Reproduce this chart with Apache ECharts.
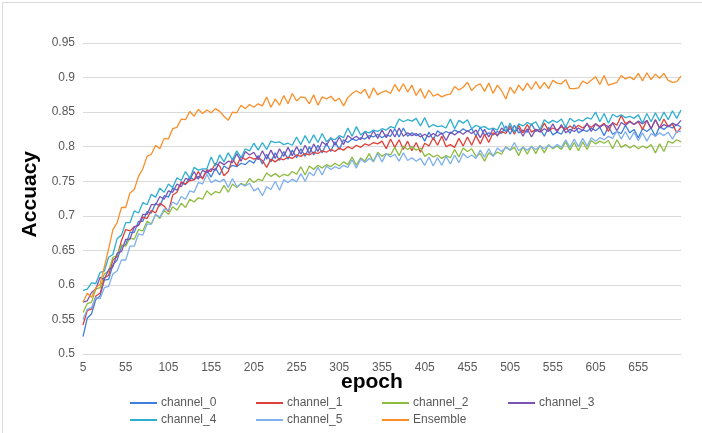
<!DOCTYPE html>
<html>
<head>
<meta charset="utf-8">
<script src="https://cdn.jsdelivr.net/npm/echarts@6/dist/echarts.min.js"></script>
<style>html,body{margin:0;padding:0;background:#fff}#c{width:702px;height:433px}</style>
</head>
<body>
<div id="c"></div>
<script>
// epochs 5,10,...,705
const epochs = [];
for (let e = 5; e <= 705; e += 5) epochs.push(String(e));

const seriesNames = ['channel_0','channel_1','channel_2','channel_3','channel_4','channel_5','Ensemble'];

const channel_0 = [
0.525,0.552,0.558,0.579,0.584,0.607,0.608,0.629,0.636,0.656,
0.658,0.676,0.676,0.692,0.692,0.706,0.704,0.718,0.714,0.729,
0.727,0.740,0.737,0.748,0.745,0.756,0.752,0.757,0.755,0.766,
0.756,0.769,0.759,0.772,0.768,0.773,0.771,0.776,0.774,0.780,
0.776,0.787,0.775,0.789,0.778,0.791,0.780,0.793,0.782,0.795,
0.784,0.797,0.786,0.800,0.788,0.802,0.791,0.805,0.793,0.807,
0.796,0.810,0.806,0.811,0.809,0.813,0.811,0.816,0.814,0.818,
0.813,0.817,0.815,0.826,0.814,0.827,0.815,0.820,0.816,0.819,
0.808,0.821,0.810,0.823,0.818,0.822,0.819,0.824,0.821,0.826,
0.822,0.826,0.815,0.828,0.817,0.820,0.817,0.822,0.819,0.830,
0.818,0.831,0.820,0.824,0.821,0.833,0.822,0.826,0.815,0.828,
0.817,0.821,0.818,0.830,0.819,0.832,0.820,0.824,0.822,0.827,
0.823,0.828,0.816,0.829,0.818,0.822,0.819,0.831,0.820,0.825,
0.813,0.826,0.822,0.827,0.815,0.829,0.825,0.830,0.827,0.832,
0.828];

const channel_1 = [
0.542,0.563,0.565,0.584,0.588,0.610,0.614,0.636,0.641,0.664,
0.680,0.678,0.684,0.686,0.698,0.696,0.708,0.704,0.718,0.714,
0.706,0.730,0.734,0.749,0.746,0.751,0.752,0.764,0.753,0.767,
0.764,0.776,0.772,0.758,0.764,0.783,0.772,0.786,0.781,0.785,
0.782,0.784,0.780,0.770,0.782,0.778,0.783,0.781,0.785,0.783,
0.788,0.786,0.790,0.788,0.792,0.790,0.794,0.792,0.796,0.793,
0.798,0.795,0.800,0.797,0.802,0.799,0.804,0.802,0.806,0.804,
0.808,0.797,0.811,0.799,0.810,0.796,0.808,0.794,0.806,0.792,
0.805,0.801,0.813,0.802,0.815,0.800,0.803,0.799,0.812,0.801,
0.814,0.802,0.816,0.804,0.818,0.806,0.820,0.817,0.822,0.819,
0.830,0.818,0.831,0.820,0.832,0.821,0.825,0.822,0.834,0.823,
0.827,0.824,0.829,0.825,0.830,0.826,0.831,0.827,0.832,0.828,
0.833,0.829,0.834,0.822,0.835,0.831,0.845,0.833,0.837,0.832,
0.836,0.825,0.838,0.826,0.839,0.827,0.840,0.829,0.833,0.820,
0.828];

const channel_2 = [
0.560,0.573,0.575,0.594,0.596,0.616,0.620,0.640,0.642,0.658,
0.656,0.668,0.666,0.680,0.678,0.692,0.688,0.702,0.696,0.708,
0.702,0.713,0.708,0.718,0.712,0.724,0.720,0.726,0.724,0.736,
0.730,0.735,0.733,0.744,0.734,0.746,0.741,0.747,0.744,0.754,
0.748,0.753,0.751,0.762,0.757,0.761,0.756,0.760,0.758,0.764,
0.760,0.771,0.759,0.772,0.767,0.773,0.769,0.774,0.771,0.776,
0.772,0.778,0.774,0.785,0.773,0.784,0.779,0.790,0.778,0.792,
0.786,0.790,0.788,0.799,0.787,0.801,0.796,0.800,0.795,0.798,
0.786,0.790,0.785,0.788,0.783,0.787,0.784,0.796,0.785,0.798,
0.793,0.797,0.786,0.790,0.779,0.791,0.787,0.792,0.789,0.800,
0.795,0.799,0.787,0.800,0.789,0.801,0.790,0.802,0.791,0.803,
0.797,0.801,0.796,0.807,0.795,0.806,0.794,0.807,0.796,0.809,
0.804,0.808,0.805,0.809,0.797,0.810,0.799,0.803,0.798,0.802,
0.797,0.801,0.798,0.803,0.791,0.804,0.793,0.808,0.805,0.810,
0.807];

const channel_3 = [
0.575,0.577,0.589,0.594,0.611,0.608,0.622,0.626,0.646,0.648,
0.666,0.666,0.684,0.686,0.702,0.702,0.716,0.716,0.728,0.724,
0.736,0.734,0.746,0.742,0.754,0.752,0.764,0.753,0.766,0.762,
0.768,0.766,0.778,0.774,0.779,0.777,0.790,0.779,0.793,0.788,
0.792,0.781,0.794,0.782,0.795,0.783,0.797,0.786,0.799,0.787,
0.800,0.789,0.802,0.790,0.804,0.793,0.807,0.802,0.813,0.802,
0.814,0.803,0.816,0.811,0.815,0.810,0.822,0.811,0.823,0.812,
0.824,0.813,0.825,0.814,0.827,0.815,0.820,0.816,0.819,0.814,
0.818,0.814,0.819,0.815,0.820,0.809,0.821,0.817,0.822,0.818,
0.823,0.819,0.824,0.813,0.825,0.814,0.826,0.815,0.827,0.822,
0.826,0.822,0.827,0.815,0.826,0.814,0.825,0.821,0.826,0.822,
0.833,0.821,0.832,0.820,0.825,0.822,0.827,0.823,0.834,0.822,
0.833,0.828,0.832,0.829,0.834,0.823,0.835,0.831,0.836,0.832,
0.837,0.833,0.838,0.826,0.839,0.827,0.832,0.829,0.834,0.831,
0.838];

const channel_4 = [
0.592,0.594,0.603,0.602,0.618,0.620,0.640,0.644,0.667,0.672,
0.690,0.690,0.707,0.704,0.719,0.716,0.731,0.727,0.740,0.734,
0.746,0.741,0.755,0.751,0.764,0.754,0.770,0.766,0.768,0.768,
0.785,0.772,0.788,0.778,0.791,0.781,0.794,0.784,0.797,0.794,
0.805,0.795,0.806,0.796,0.808,0.806,0.807,0.803,0.805,0.802,
0.814,0.803,0.816,0.805,0.817,0.806,0.819,0.807,0.812,0.810,
0.816,0.813,0.827,0.815,0.829,0.817,0.822,0.820,0.824,0.822,
0.826,0.824,0.829,0.827,0.840,0.836,0.839,0.837,0.841,0.830,
0.842,0.828,0.832,0.829,0.830,0.827,0.840,0.826,0.838,0.834,
0.839,0.826,0.831,0.828,0.829,0.825,0.827,0.824,0.836,0.822,
0.834,0.821,0.833,0.830,0.835,0.832,0.836,0.825,0.839,0.834,
0.838,0.835,0.840,0.828,0.841,0.836,0.839,0.837,0.842,0.840,
0.850,0.836,0.848,0.834,0.847,0.843,0.846,0.842,0.844,0.841,
0.846,0.834,0.848,0.836,0.849,0.837,0.850,0.839,0.852,0.841,
0.853];

const channel_5 = [
0.550,0.565,0.567,0.582,0.580,0.596,0.598,0.616,0.620,0.636,
0.636,0.656,0.656,0.674,0.672,0.688,0.688,0.702,0.698,0.710,
0.708,0.720,0.716,0.728,0.724,0.736,0.734,0.748,0.746,0.760,
0.748,0.752,0.749,0.753,0.741,0.754,0.742,0.746,0.743,0.747,
0.736,0.740,0.729,0.742,0.738,0.750,0.737,0.752,0.748,0.753,
0.749,0.761,0.750,0.763,0.758,0.770,0.759,0.772,0.767,0.771,
0.768,0.773,0.770,0.781,0.769,0.782,0.777,0.783,0.779,0.790,
0.778,0.790,0.785,0.789,0.779,0.791,0.780,0.784,0.779,0.783,
0.773,0.785,0.772,0.784,0.773,0.786,0.775,0.788,0.777,0.790,
0.784,0.788,0.783,0.795,0.785,0.797,0.786,0.798,0.793,0.799,
0.795,0.806,0.794,0.799,0.795,0.800,0.796,0.801,0.797,0.802,
0.798,0.803,0.799,0.810,0.799,0.811,0.800,0.812,0.801,0.813,
0.808,0.813,0.810,0.815,0.812,0.823,0.811,0.822,0.810,0.821,
0.809,0.820,0.808,0.819,0.815,0.820,0.816,0.821,0.811,0.822,
0.822];

const ensemble = [
0.575,0.588,0.582,0.596,0.601,0.626,0.652,0.680,0.690,0.712,
0.712,0.733,0.738,0.757,0.768,0.786,0.789,0.802,0.797,0.812,
0.811,0.826,0.828,0.840,0.839,0.851,0.844,0.854,0.848,0.853,
0.849,0.855,0.851,0.844,0.838,0.850,0.849,0.860,0.855,0.861,
0.857,0.862,0.859,0.872,0.857,0.869,0.860,0.874,0.862,0.877,
0.866,0.872,0.871,0.862,0.875,0.860,0.872,0.869,0.873,0.866,
0.870,0.859,0.871,0.877,0.881,0.877,0.883,0.870,0.885,0.875,
0.879,0.881,0.877,0.890,0.880,0.891,0.879,0.889,0.874,0.884,
0.870,0.882,0.873,0.876,0.872,0.875,0.876,0.887,0.882,0.886,
0.893,0.881,0.888,0.891,0.880,0.892,0.877,0.889,0.881,0.869,
0.886,0.877,0.889,0.881,0.892,0.883,0.894,0.884,0.893,0.884,
0.896,0.892,0.891,0.897,0.884,0.884,0.885,0.895,0.891,0.896,
0.901,0.890,0.903,0.889,0.891,0.893,0.903,0.898,0.901,0.897,
0.906,0.895,0.907,0.897,0.905,0.899,0.906,0.896,0.893,0.894,
0.902];

const allData = [channel_0, channel_1, channel_2, channel_3, channel_4, channel_5, ensemble];
const colors = ['#3D7FDB','#E0403A','#8DBB3E','#7953B5','#2EAED0','#7FB0EE','#FA8F2A'];

const legendPos = [[130,397],[256,397],[382,397],[508,397],[130,414],[256,414],[382,414]];

const chart = echarts.init(document.getElementById('c'), null, {renderer:'canvas'});
const font = 'Liberation Sans, Arial, sans-serif';

chart.setOption({
  animation: false,
  backgroundColor: '#fff',
  color: colors,
  grid: {left: 83, right: 21, top: 43, bottom: 79, containLabel: false},
  xAxis: {
    type: 'category',
    data: epochs,
    boundaryGap: false,
    axisLine: {lineStyle: {color: '#d9d9d9', width: 1}},
    axisTick: {show: false},
    axisLabel: {
      color: '#595959', fontSize: 12, fontFamily: font, margin: 8,
      interval: function (i) { return i % 10 === 0 && i < 140; }
    },
    splitLine: {show: false}
  },
  yAxis: {
    type: 'value',
    min: 0.5, max: 0.95, interval: 0.05,
    axisLine: {show: false},
    axisTick: {show: false},
    axisLabel: {
      color: '#595959', fontSize: 12, fontFamily: font, margin: 8,
      formatter: function (v) { return String(+v.toFixed(2)); }
    },
    splitLine: {lineStyle: {color: '#d9d9d9', width: 1}}
  },
  legend: seriesNames.map(function (n, i) {
    return {
      data: [n], left: legendPos[i][0], top: legendPos[i][1], padding: 0,
      icon: 'rect', itemWidth: 27, itemHeight: 2,
      textStyle: {color: '#595959', fontSize: 12, fontFamily: font, padding: [0,0,0,-1]},
      selectedMode: false
    };
  }),
  graphic: [
    {type: 'rect', left: 0, top: 0, shape: {width: 701, height: 432},
     style: {fill: 'none', stroke: '#d9d9d9', lineWidth: 1}, z: -1, silent: true},
    {type: 'text', left: 20, top: 151, rotation: Math.PI/2,
     style: {text: 'Accuacy', font: 'bold 21px ' + font, fill: '#000'}},
    {type: 'text', left: 341, top: 372,
     style: {text: 'epoch', font: 'bold 21px ' + font, fill: '#000'}}
  ],
  series: seriesNames.map(function (n, i) {
    return {
      name: n, type: 'line', data: allData[i], symbol: 'none',
      lineStyle: {width: 1.3, color: colors[i]}, itemStyle: {color: colors[i]}
    };
  })
});
</script>
</body>
</html>
